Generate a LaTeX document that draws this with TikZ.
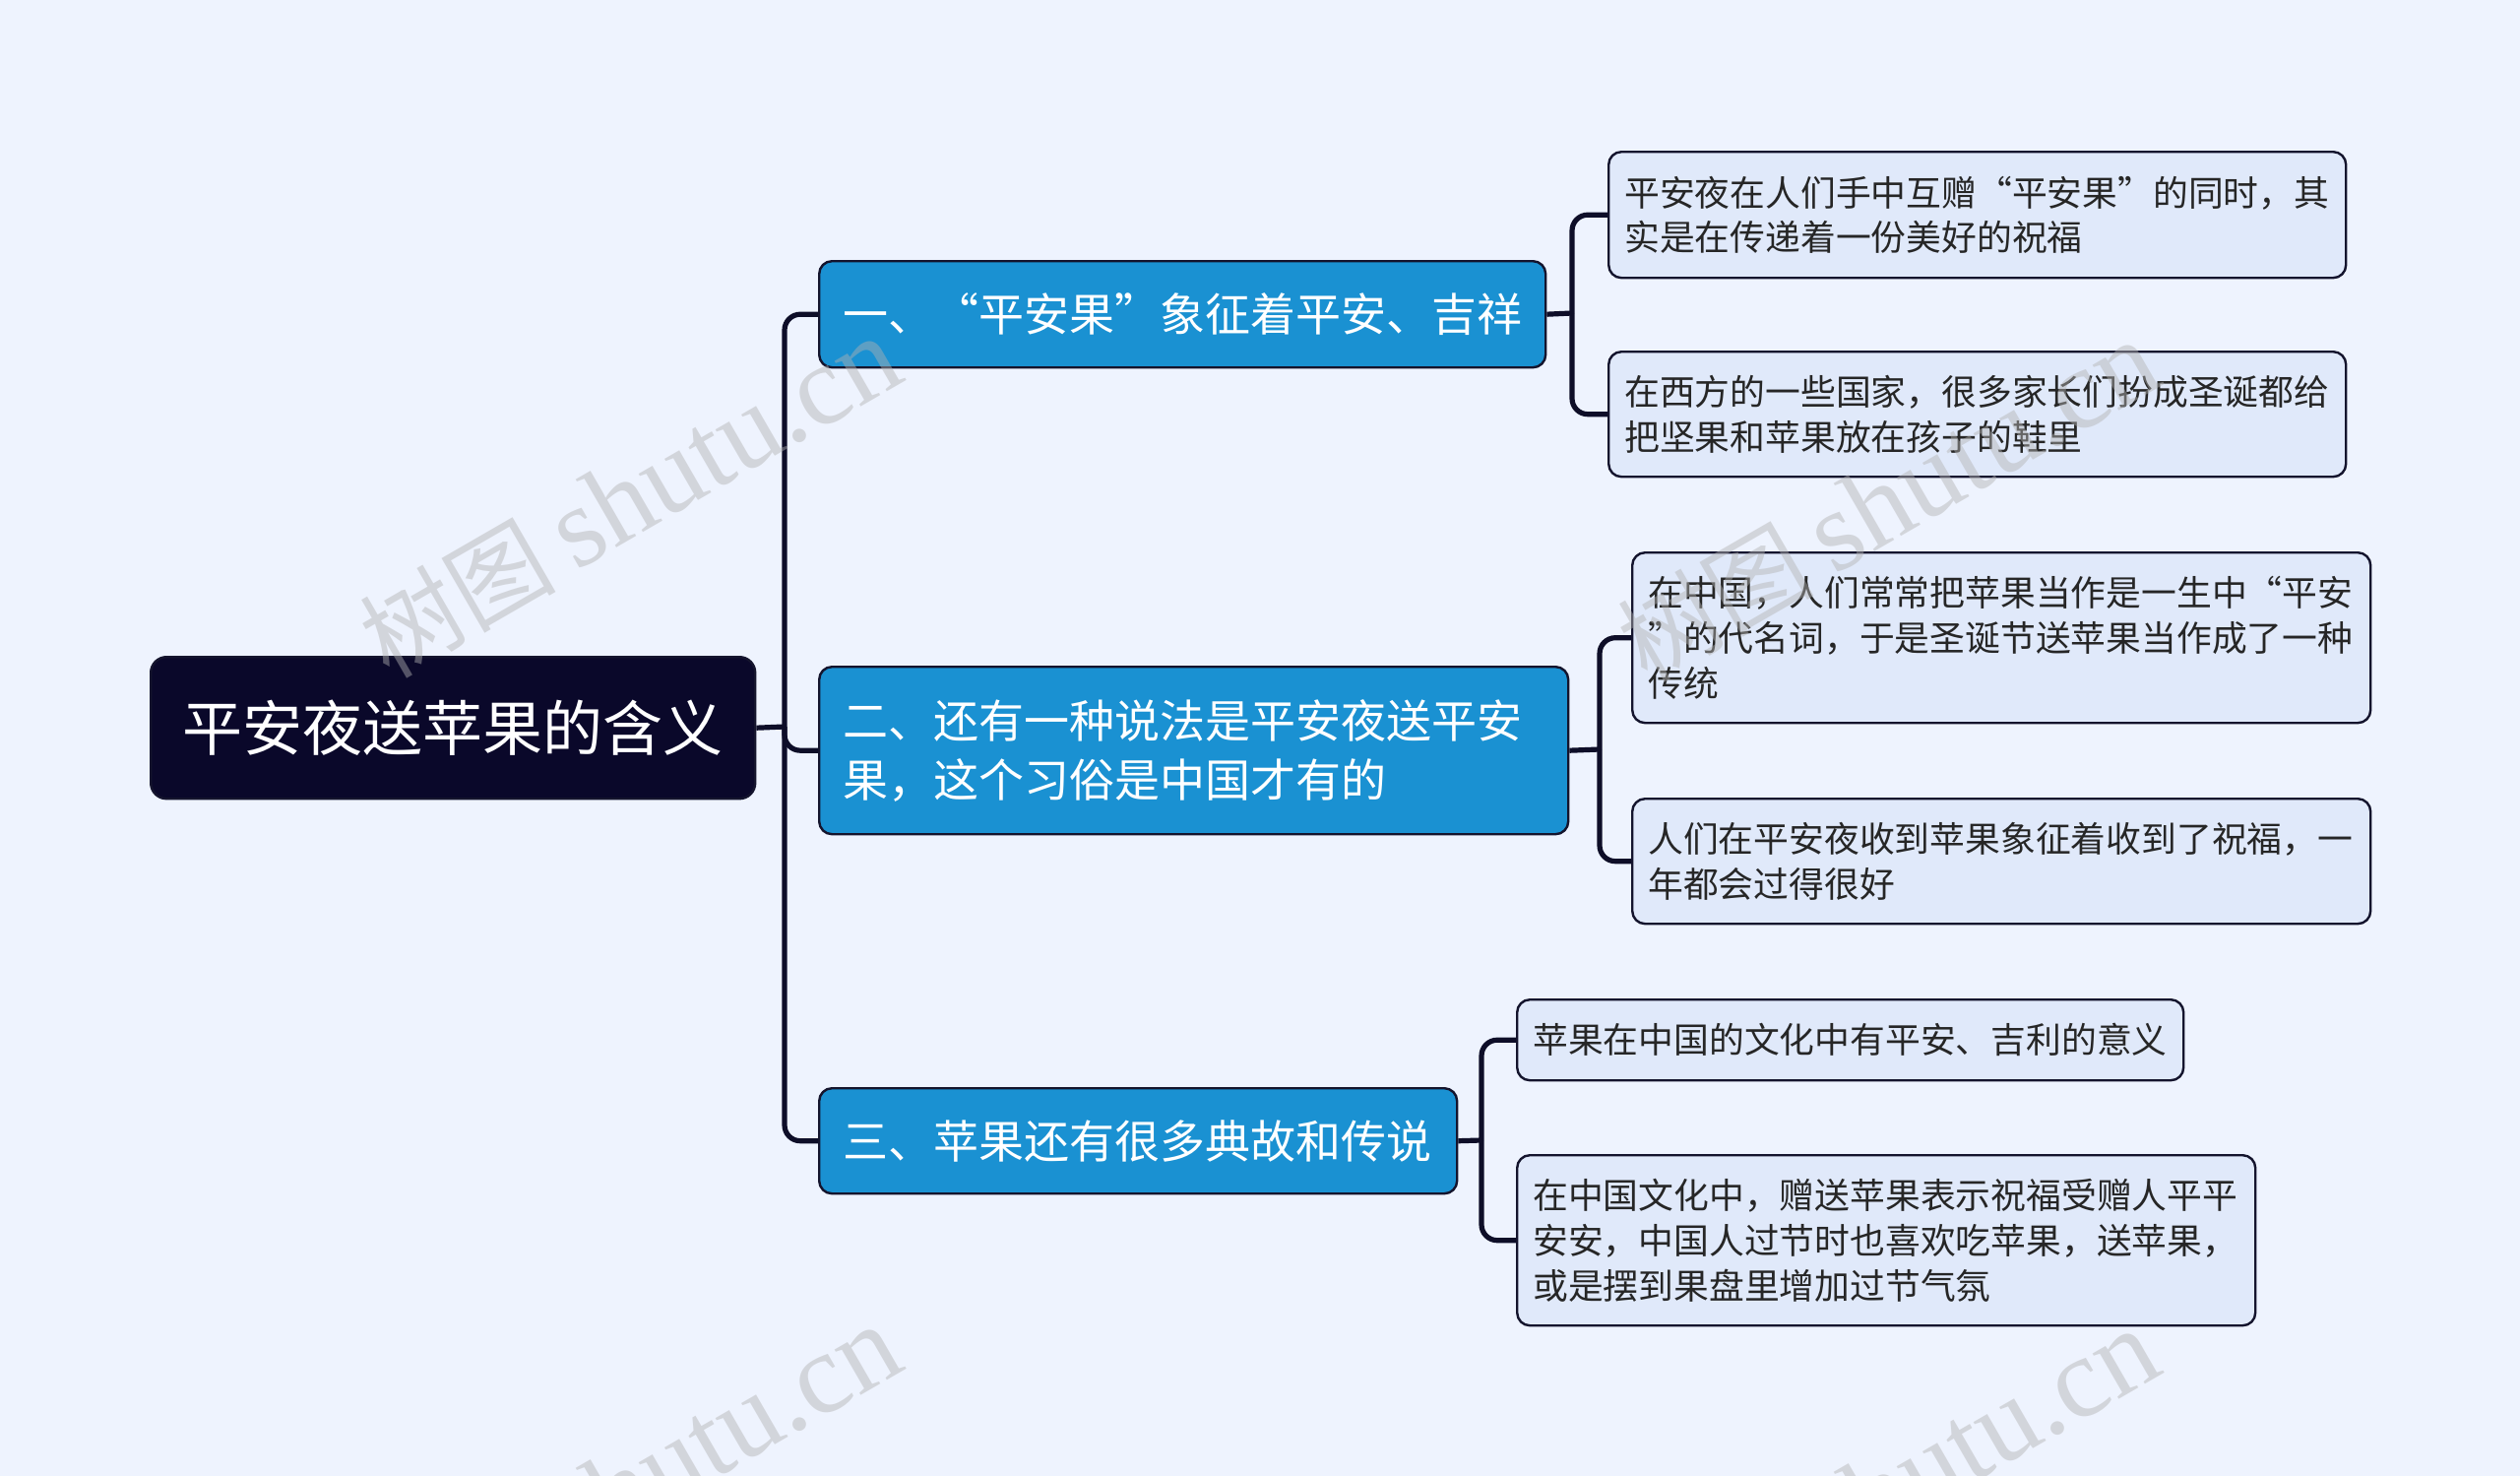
\documentclass[tikz,border=0pt]{standalone}
\usepackage{fontspec}
\setmainfont{Noto Sans CJK SC}
\newfontfamily\wmlatin{Liberation Serif}
\newfontfamily\wmcjk{Noto Sans CJK SC}
\definecolor{bgc}{RGB}{238,243,254}
\definecolor{rootc}{RGB}{10,8,42}
\definecolor{bluec}{RGB}{26,145,210}
\definecolor{lightc}{RGB}{224,233,250}
\definecolor{edgec}{RGB}{20,20,45}
\definecolor{linec}{RGB}{14,14,40}
\tikzset{
  rootbox/.style={draw=edgec, line width=1.2pt, fill=rootc, text=white, rounded corners=8pt,
    anchor=north west, inner sep=0pt, align=center, font=\fontsize{30.5pt}{36pt}\selectfont},
  lvone/.style={draw=edgec, line width=1.2pt, fill=bluec, text=white, rounded corners=6.5pt,
    anchor=north west, inner xsep=12pt, inner ysep=0pt, align=left, font=\fontsize{23pt}{30pt}\selectfont},
  lvtwo/.style={draw=edgec, line width=1.2pt, fill=lightc, text=black!85, rounded corners=6.5pt,
    anchor=north west, inner xsep=8pt, inner ysep=0pt, align=left, font=\fontsize{17.9pt}{22.85pt}\selectfont},
  conn/.style={draw=linec, line width=2.6pt, rounded corners=8pt},
  wm/.style={text=gray!60, opacity=0.45, rotate=30, font=\fontsize{58pt}{60pt}\selectfont}
}
\newcommand{\wmtext}{{\wmcjk\fontsize{50pt}{60pt}\selectfont 树图}\,{\wmlatin shutu.cn}}
\begin{document}
\begin{tikzpicture}[x=0.5pt,y=-0.5pt]
\fill[bgc] (0,0) rectangle (2560,1499);
\useasboundingbox (0,0) rectangle (2560,1499);

% root
\node[rootbox, minimum width=307pt, minimum height=72pt] (root) at (152,666) {平安夜送苹果的含义};

% level one
\node[lvone, minimum width=367.5pt, minimum height=54pt, text width=345pt] (a1) at (831,264) {一、“平安果”象征着平安、吉祥};
\node[lvone, minimum width=380.5pt, minimum height=85pt, text width=356.5pt] (a2) at (831,676) {二、还有一种说法是平安夜送平安\\果，这个习俗是中国才有的};
\node[lvone, minimum width=321.5pt, minimum height=53.5pt, text width=300pt] (a3) at (831,1104) {三、苹果还有很多典故和传说};

% level two
\node[lvtwo, minimum width=374.5pt, minimum height=64pt, text width=358.5pt] (b1) at (1633,153) {平安夜在人们手中互赠“平安果”的同时，其\\实是在传递着一份美好的祝福};
\node[lvtwo, minimum width=374.5pt, minimum height=63.5pt, text width=358.5pt] (b2) at (1633,356) {在西方的一些国家，很多家长们扮成圣诞都给\\把坚果和苹果放在孩子的鞋里};
\node[lvtwo, minimum width=375pt, minimum height=86.5pt, text width=359pt] (b3) at (1657,560) {在中国，人们常常把苹果当作是一生中“平安\\”的代名词，于是圣诞节送苹果当作成了一种\\传统};
\node[lvtwo, minimum width=375pt, minimum height=63.5pt, text width=359pt] (b4) at (1657,810) {人们在平安夜收到苹果象征着收到了祝福，一\\年都会过得很好};
\node[lvtwo, minimum width=338.5pt, minimum height=41pt, text width=322.5pt] (b5) at (1540,1014) {苹果在中国的文化中有平安、吉利的意义};
\node[lvtwo, minimum width=374.5pt, minimum height=86.5pt, text width=359pt] (b6) at (1540,1172) {在中国文化中，赠送苹果表示祝福受赠人平平\\安安，中国人过节时也喜欢吃苹果，送苹果，\\或是摆到果盘里增加过节气氛};

% junction coordinates
\coordinate (t0) at (797,738);
\coordinate (t1) at (1597,318);
\coordinate (t2) at (1625,761);
\coordinate (t3) at (1505,1158);

% connectors
\draw[conn] (root.east) -- (t0);
\draw[conn] (t0) |- (a1.west);
\draw[conn] (t0) |- (a2.west);
\draw[conn] (t0) |- (a3.west);

\draw[conn] (a1.east) -- (t1);
\draw[conn] (t1) |- (b1.west);
\draw[conn] (t1) |- (b2.west);

\draw[conn] (a2.east) -- (t2);
\draw[conn] (t2) |- (b3.west);
\draw[conn] (t2) |- (b4.west);

\draw[conn] (a3.east) -- (t3);
\draw[conn] (t3) |- (b5.west);
\draw[conn] (t3) |- (b6.west);

% watermarks
\node[wm] (w1) at (640,505) {\wmtext};
\node[wm] (w2) at (1918,509) {\wmtext};
\node[wm] (w3) at (640,1509) {\wmtext};
\node[wm] (w4) at (1918,1513) {\wmtext};
\end{tikzpicture}
\end{document}
